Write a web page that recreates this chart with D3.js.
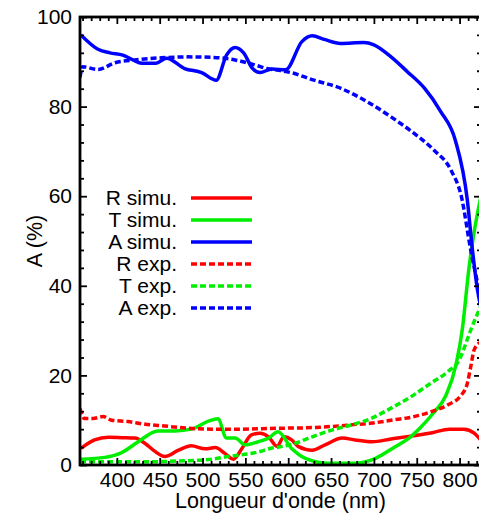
<!DOCTYPE html>
<html><head><meta charset="utf-8">
<script src="https://cdn.jsdelivr.net/npm/d3@7"></script>
<style>
html,body{margin:0;padding:0;background:#fff;}
text{font-family:"Liberation Sans",Arial,sans-serif;}
</style></head>
<body><svg id="c" width="479" height="515"></svg>
<script>
// ---- data (wavelength nm, percent) ----
const rSimuX = [358,374,390,406,421,433,444,456,472,487,503,515,526,536,546,557,567,577,587,595,604,612,628,643,663,678,698,720,745,768,788,805,817,825];
const rSimuY = [3.7,5.6,6.2,6.1,6.0,4.8,3.1,1.9,3.3,4.3,3.6,3.9,2.6,1.3,3.7,6.7,7.1,6.3,4.2,6.3,5.6,4.1,3.3,4.5,6.0,5.6,5.2,5.8,6.5,7.2,8.0,8.0,7.1,5.5];
const tSimuX = [358,386,406,425,448,468,487,507,518,528,538,550,565,577,588,604,620,647,678,702,725,741,755,769,784,796,803,811,817,825];
const tSimuY = [1.3,1.7,2.8,5.2,7.6,7.6,8.0,9.8,10.3,6.0,6.0,4.5,5.2,6.0,7.4,3.7,1.5,0.4,0.4,1.5,4.1,6.0,8.5,11.5,15.5,22.5,30,44,52,60];
const aSimuX = [358,378,392,407,419,429,446,458,479,499,516,528,538,548,558,567,581,597,616,628,642,661,688,700,720,739,759,778,795,809,815,821,825];
const aSimuY = [96.0,92.8,92.0,91.5,90.4,89.7,89.7,90.8,88.5,87.6,85.9,91.5,93.2,92.0,88.6,87.6,88.4,88.2,94.5,95.8,95.0,94.1,94.3,93.8,91.1,87.8,84.1,78.9,72.5,59.2,48,39,35];
const rExpX = [357,362,372,384,394,413,433,456,483,511,542,569,589,620,651,682,696,720,747,767,786,802,809,813,817,825];
const rExpY = [12.6,10.4,10.4,10.8,10.0,9.7,9.1,8.7,8.2,8.0,8.0,8.1,8.2,8.3,8.6,9.1,9.3,10.0,10.8,11.9,13.4,15.6,18.2,21.9,25.7,27.5];
const tExpX = [357,394,433,472,511,530,550,567,579,589,604,628,651,675,697,720,743,766,786,800,808,813,825];
const tExpY = [0.7,0.7,0.7,0.9,1.3,1.9,2.4,3.0,3.7,4.0,4.6,6.3,7.8,9.0,10.4,12.7,15.2,18.2,20.8,23.6,27.5,30.1,35.5];
const aExpX = [357,360,378,398,421,452,483,511,538,561,575,589,603,630,661,692,720,747,770,790,802,813,821,825];
const aExpY = [86.5,88.9,88.3,89.8,90.4,90.9,91.1,91.0,90.4,89.3,88.5,88.1,87.6,85.9,84.1,81.1,77.7,74.0,70.3,65.8,60,48,40.6,37];

const seriesNames = ["R simu.","T simu.","A simu.","R exp.","T exp.","A exp."];
const xTicks = [400,450,500,550,600,650,700,750,800];
const yTicks = [0,20,40,60,80,100];
const xLabel = "Longueur d'onde (nm)";
const yLabel = "A (%)";

// ---- layout ----
const L = 80, R = 481, T = 17, B = 465;
const x = d3.scaleLinear().domain([357, 825]).range([L, R]);
const y = d3.scaleLinear().domain([0, 100]).range([B, T]);
const colors = ["#ff0000","#00ee00","#0000ff","#ff0000","#00ee00","#0000ff"];
const dashed = [false,false,false,true,true,true];
const xs = [rSimuX,tSimuX,aSimuX,rExpX,tExpX,aExpX];
const ys = [rSimuY,tSimuY,aSimuY,rExpY,tExpY,aExpY];

const svg = d3.select("#c");
svg.append("defs").append("clipPath").attr("id","clip")
  .append("rect").attr("x",L).attr("y",T).attr("width",R-L).attr("height",B-T);

const line = d3.line().x(d=>x(d[0])).y(d=>y(d[1])).curve(d3.curveMonotoneX);
const g = svg.append("g").attr("clip-path","url(#clip)");
seriesNames.forEach((n,i)=>{
  const pts = xs[i].map((v,j)=>[v, ys[i][j]]);
  g.append("path").datum(pts).attr("d",line)
    .attr("fill","none").attr("stroke",colors[i]).attr("stroke-width",3.5)
    .attr("stroke-linejoin","round")
    .attr("stroke-dasharray", dashed[i] ? "6,3" : null);
});

// ---- axes ----
const xMinor = d3.range(360, 826, 10).filter(v=>v%50!==0);
const yMinor = d3.range(0, 101, 4).filter(v=>v%20!==0);
function style(sel){
  sel.selectAll("path.domain").remove();
  sel.selectAll("line").attr("stroke","#000").attr("stroke-width",1.8);
  sel.selectAll("text").attr("font-size",21).attr("fill","#000")
     .style("font-family",'"Liberation Sans",Arial,sans-serif');
}
svg.append("g").attr("transform",`translate(0,${B})`)
  .call(d3.axisBottom(x).tickValues(xTicks).tickSize(-7).tickPadding(7).tickFormat(d3.format("d"))).call(style);
svg.append("g").attr("transform",`translate(0,${B})`)
  .call(d3.axisBottom(x).tickValues(xMinor).tickSize(-4).tickFormat("")).call(style);
svg.append("g").attr("transform",`translate(0,${T})`)
  .call(d3.axisTop(x).tickValues(xTicks).tickSize(-7).tickFormat("")).call(style);
svg.append("g").attr("transform",`translate(0,${T})`)
  .call(d3.axisTop(x).tickValues(xMinor).tickSize(-4).tickFormat("")).call(style);
svg.append("g").attr("transform",`translate(${L},0)`)
  .call(d3.axisLeft(y).tickValues(yTicks).tickSize(-7).tickPadding(8).tickFormat(d3.format("d"))).call(style);
svg.append("g").attr("transform",`translate(${L},0)`)
  .call(d3.axisLeft(y).tickValues(yMinor).tickSize(-4).tickFormat("")).call(style);
svg.append("g").attr("transform",`translate(${R},0)`)
  .call(d3.axisRight(y).tickValues(yTicks).tickSize(-7).tickFormat("")).call(style);
svg.append("g").attr("transform",`translate(${R},0)`)
  .call(d3.axisRight(y).tickValues(yMinor).tickSize(-4).tickFormat("")).call(style);

svg.append("rect").attr("x",L).attr("y",T).attr("width",R-L).attr("height",B-T)
  .attr("fill","none").attr("stroke","#000").attr("stroke-width",2.8);

// ---- titles ----
svg.append("text").attr("x",(L+R)/2).attr("y",508).attr("text-anchor","middle")
  .attr("font-size",21.5).text(xLabel);
svg.append("text").attr("transform",`translate(42,${(T+B)/2}) rotate(-90)`)
  .attr("text-anchor","middle").attr("font-size",21.5).text(yLabel);

// ---- legend ----
const legY0 = 198, legDy = 22;
seriesNames.forEach((n,i)=>{
  const yy = legY0 + i*legDy;
  svg.append("text").attr("x",177).attr("y",yy).attr("dy","0.35em")
    .attr("text-anchor","end").attr("font-size",21).text(n);
  svg.append("line").attr("x1",191).attr("x2",252).attr("y1",yy).attr("y2",yy)
    .attr("stroke",colors[i]).attr("stroke-width",3.5)
    .attr("stroke-dasharray", dashed[i] ? "6,3" : null);
});
</script></body></html>
